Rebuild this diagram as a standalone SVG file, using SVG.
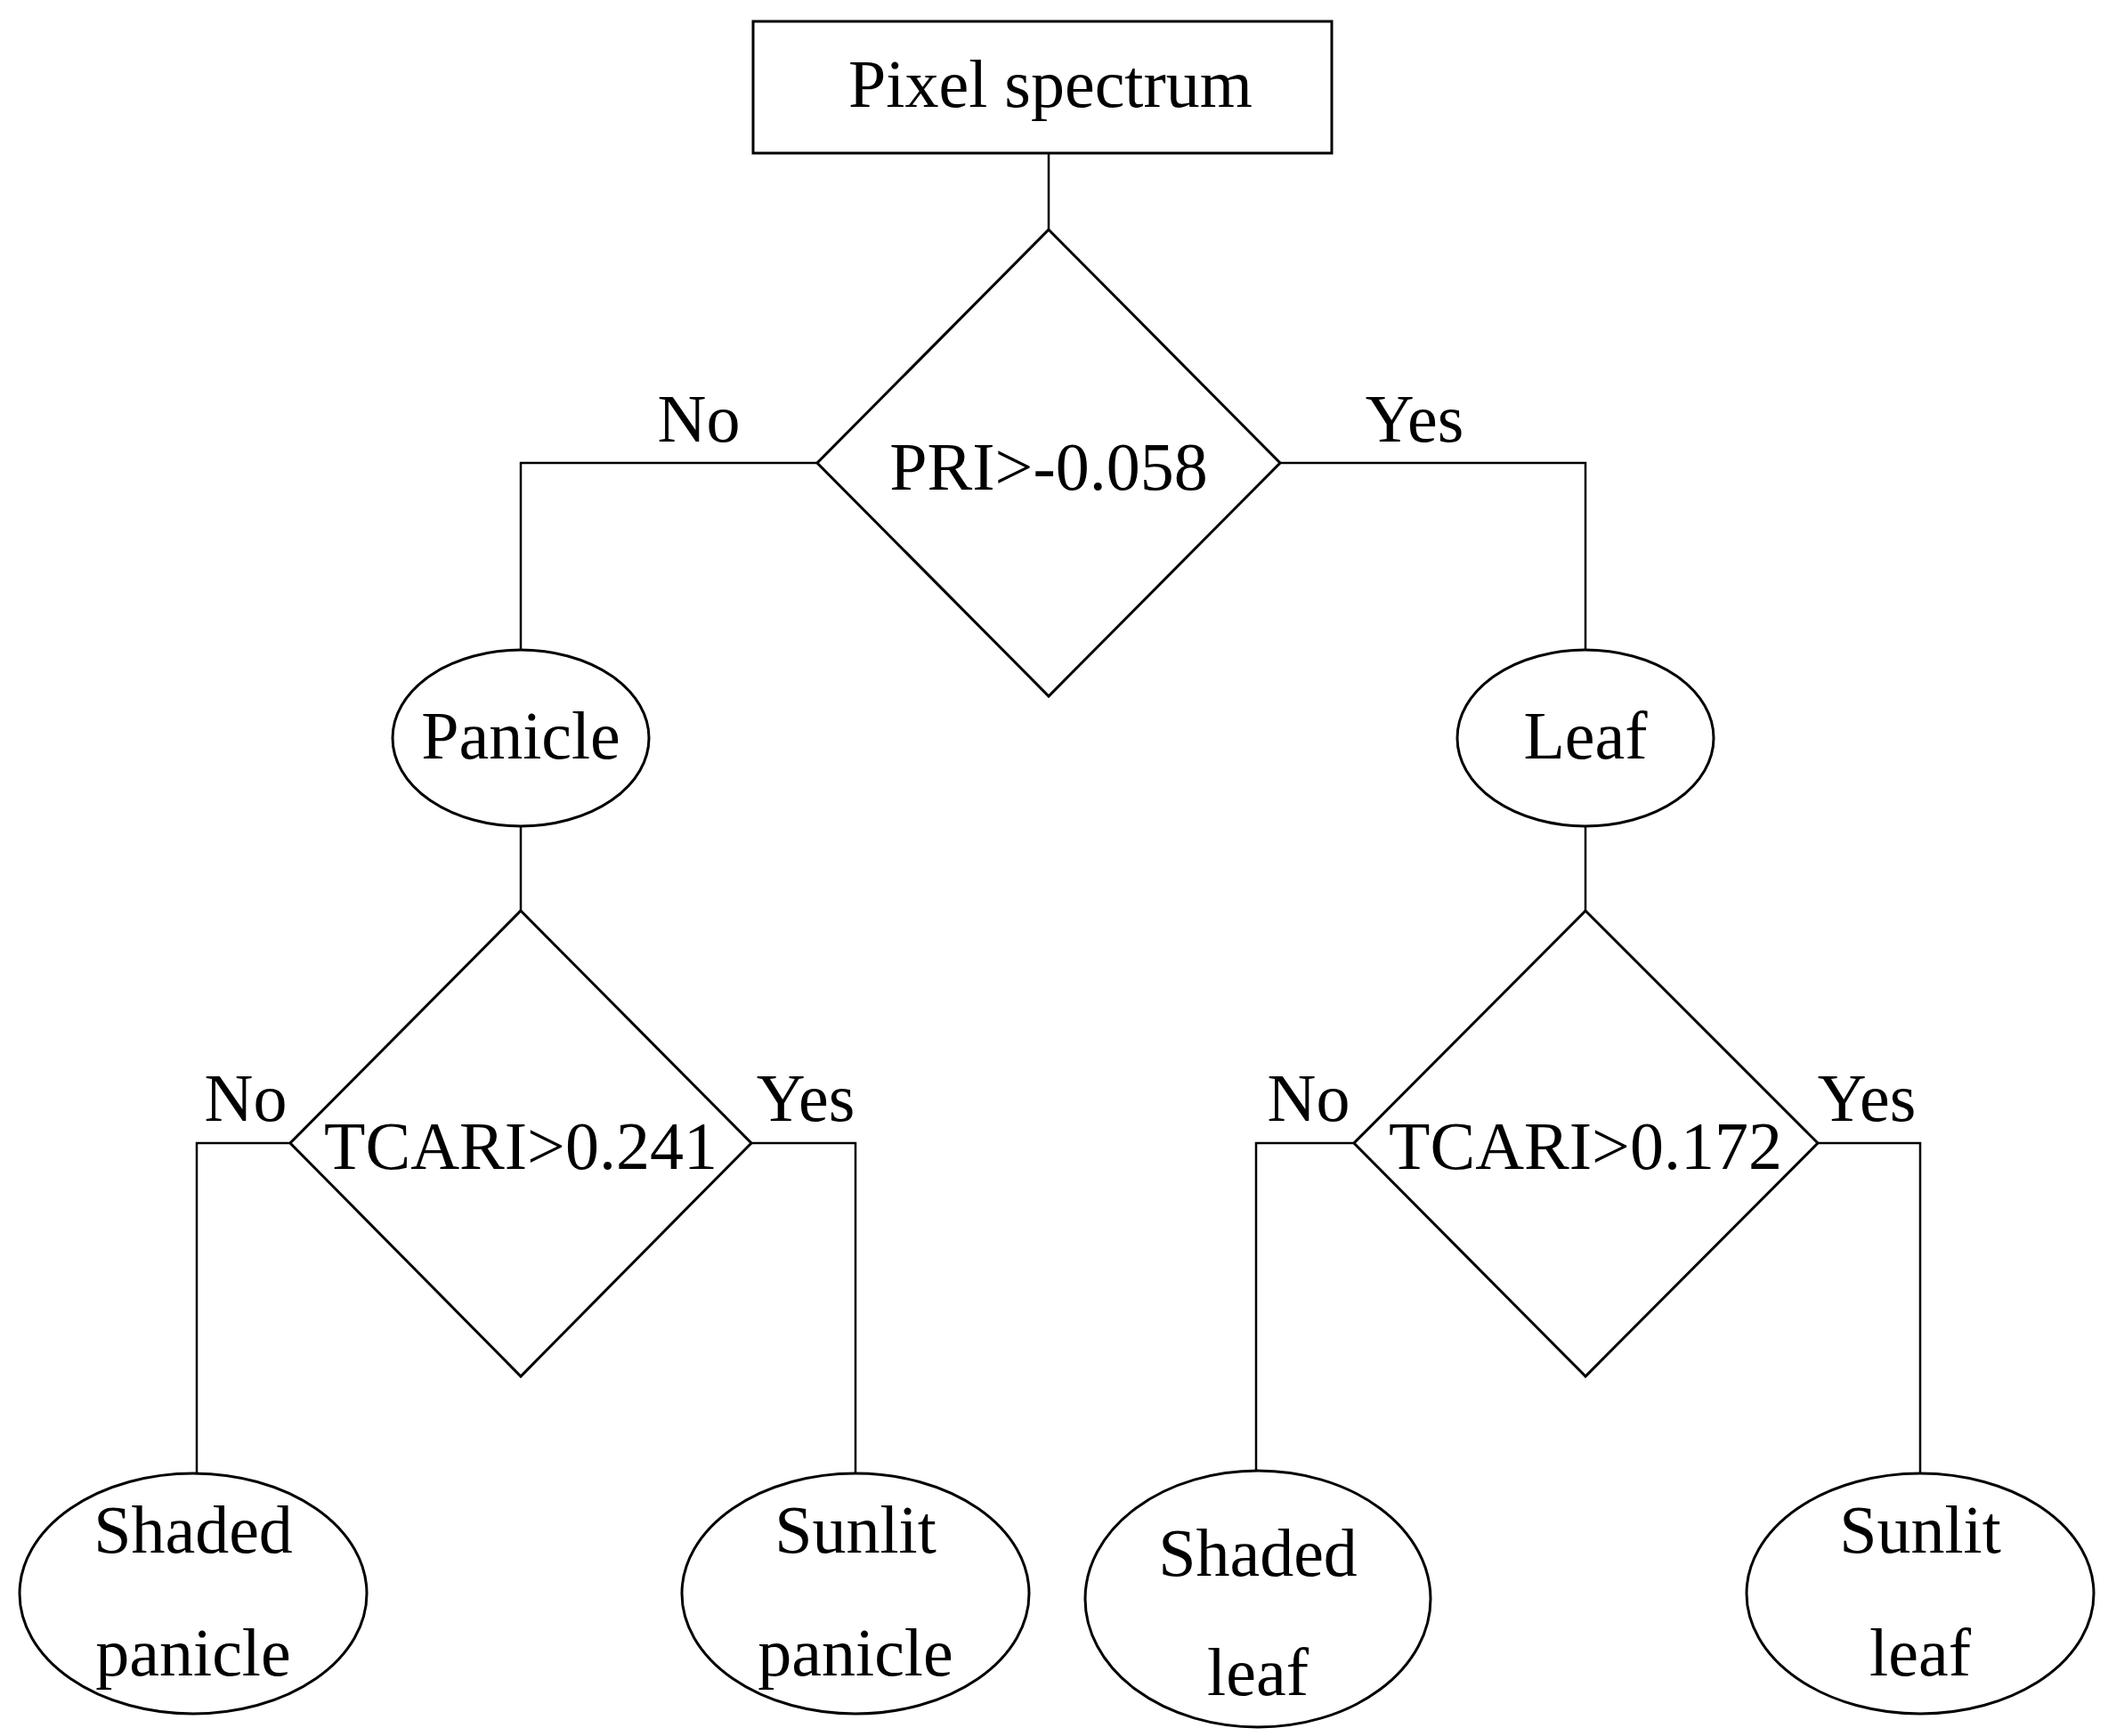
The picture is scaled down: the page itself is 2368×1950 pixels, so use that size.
<svg xmlns="http://www.w3.org/2000/svg" width="2368" height="1950" viewBox="0 0 2368 1950">
<style>
.s{fill:#fff;stroke:#000;stroke-width:3}
.c{fill:none;stroke:#000;stroke-width:2.5}
text{font-family:"Liberation Serif",serif;font-size:76px;text-anchor:middle;dominant-baseline:central;fill:#000}
</style>
<rect width="2368" height="1950" fill="#fff"/>
<g id="connectors">
<path class="c" d="M1178 172V258M918 520H585V732M1438 520H1781V732M585 928V1023M1781 928V1023M326 1284H221V1660M844 1284H961V1655M1521 1284H1411V1657M2042 1284H2157V1655"/>
<text x="785" y="470">No</text>
<text x="1589" y="470">Yes</text>
<text x="276" y="1233">No</text>
<text x="905" y="1233">Yes</text>
<text x="1470" y="1233">No</text>
<text x="2097" y="1233">Yes</text>
</g>
<g id="pixel"><rect class="s" x="846" y="24" width="650" height="148"/><text x="1180" y="94">Pixel spectrum</text></g>
<g id="pri"><polygon class="s" points="1178,258 1438,520 1178,782 918,520"/><text x="1178" y="524">PRI&gt;-0.058</text></g>
<g id="panicle"><ellipse class="s" cx="585" cy="829" rx="144" ry="99"/><text x="585" y="826">Panicle</text></g>
<g id="leaf"><ellipse class="s" cx="1781" cy="829" rx="144" ry="99"/><text x="1781" y="826">Leaf</text></g>
<g id="tcari1"><polygon class="s" points="585,1023 844,1284 585,1546 326,1284"/><text x="585" y="1287">TCARI&gt;0.241</text></g>
<g id="tcari2"><polygon class="s" points="1781,1023 2042,1284 1781,1546 1521,1284"/><text x="1781" y="1287">TCARI&gt;0.172</text></g>
<g id="shadedpanicle"><ellipse class="s" cx="217" cy="1790" rx="195" ry="135"/><text x="217" y="1718">Shaded</text><text x="217" y="1856">panicle</text></g>
<g id="sunlitpanicle"><ellipse class="s" cx="961" cy="1790" rx="195" ry="135"/><text x="961" y="1718">Sunlit</text><text x="961" y="1856">panicle</text></g>
<g id="shadedleaf"><ellipse class="s" cx="1413" cy="1796" rx="194" ry="144"/><text x="1413" y="1744">Shaded</text><text x="1413" y="1878">leaf</text></g>
<g id="sunlitleaf"><ellipse class="s" cx="2157" cy="1790" rx="195" ry="135"/><text x="2157" y="1718">Sunlit</text><text x="2157" y="1856">leaf</text></g>
</svg>
